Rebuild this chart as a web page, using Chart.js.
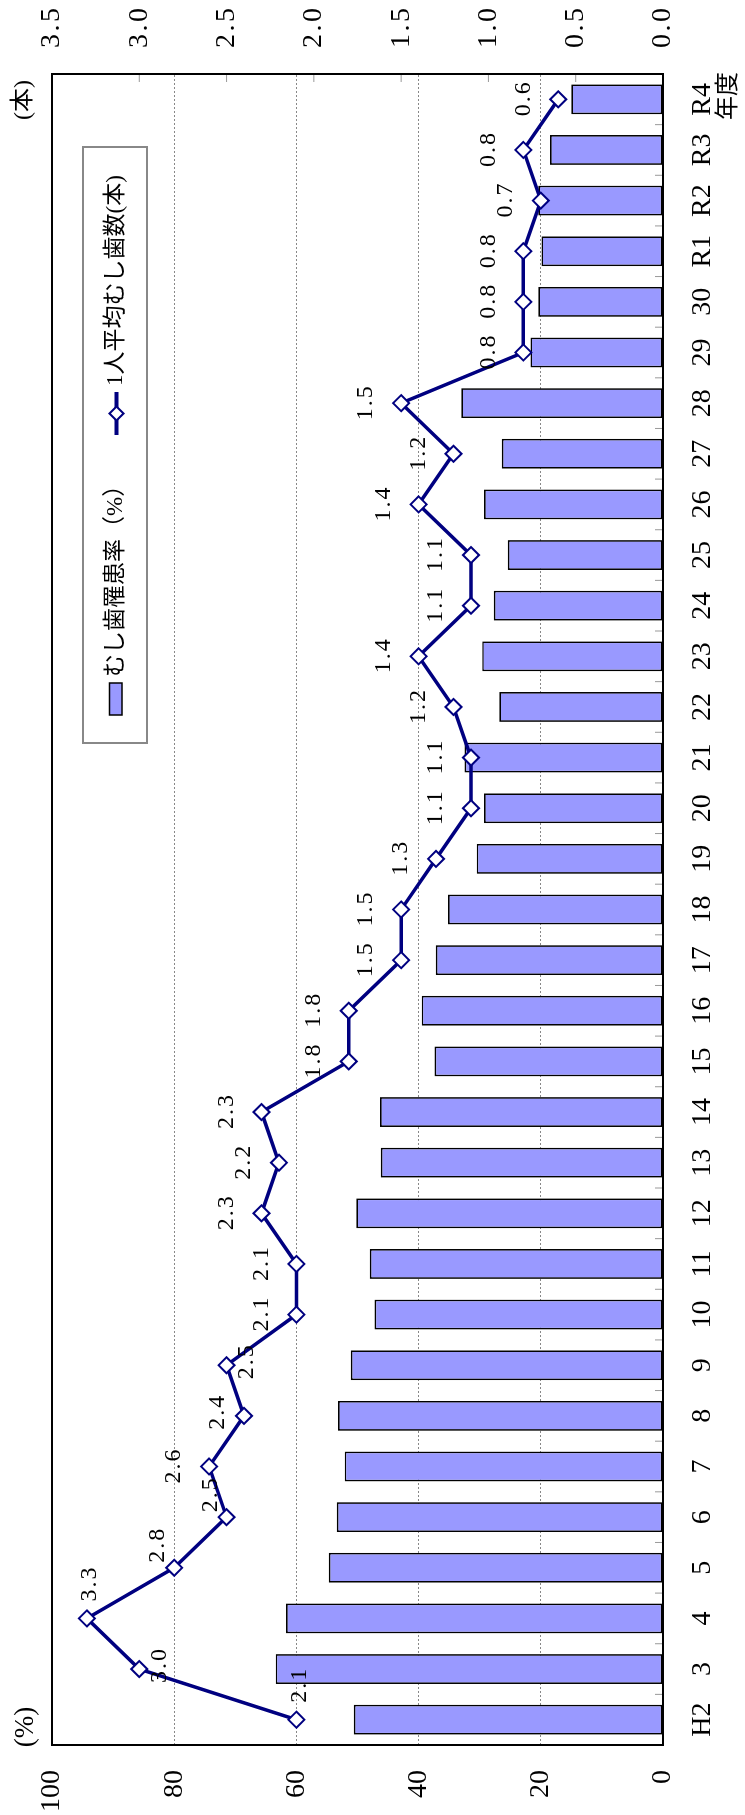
<!DOCTYPE html>
<html lang="ja">
<head>
<meta charset="utf-8">
<title>むし歯罹患率と1人平均むし歯数の推移</title>
<script src="https://cdn.jsdelivr.net/npm/chart.js@4/dist/chart.umd.min.js"></script>
<style>
  html, body { margin: 0; padding: 0; background: #fff; overflow: hidden; }
  #wrap { position: relative; width: 745px; height: 1815px; overflow: hidden; }
  /* chart is laid out landscape, then turned a quarter turn to stand upright */
  #caries {
    position: absolute; left: 0; top: 0;
    transform-origin: 0 0;
    transform: translate(0, 1815px) rotate(-90deg);
  }
</style>
</head>
<body>
<div id="wrap"><canvas id="caries" width="1815" height="745"></canvas></div>
<script>
// ---------------------------------------------
// Data: school year (H2 .. R4)
// ---------------------------------------------
const YEARS = ['H2', '3', '4', '5', '6', '7', '8', '9', '10', '11', '12', '13', '14',
  '15', '16', '17', '18', '19', '20', '21', '22', '23', '24', '25', '26', '27', '28',
  '29', '30', 'R1', 'R2', 'R3', 'R4'];

// caries prevalence (%) - bars, left axis
const CARIES_RATE = [50.6, 63.4, 61.7, 54.7, 53.4, 52.1, 53.2, 51.1, 47.2, 48.0, 50.2,
  46.2, 46.3, 37.4, 39.5, 37.2, 35.2, 30.5, 29.3, 32.5, 26.8, 29.6, 27.7, 25.4, 29.3,
  26.4, 33.0, 21.7, 20.4, 19.9, 20.4, 18.5, 15.0];

// decayed teeth per child (本) - line, right axis
const TEETH_PER_CHILD = [2.1, 3.0, 3.3, 2.8, 2.5, 2.6, 2.4, 2.5, 2.1, 2.1, 2.3, 2.2, 2.3,
  1.8, 1.8, 1.5, 1.5, 1.3, 1.1, 1.1, 1.2, 1.4, 1.1, 1.1, 1.4, 1.2, 1.5, 0.8, 0.8, 0.8,
  0.7, 0.8, 0.6];

// axis tick values
const RATE_TICKS = [0, 20, 40, 60, 80, 100];
const TEETH_TICKS = [0, 0.5, 1.0, 1.5, 2.0, 2.5, 3.0, 3.5];

// where each value label sits around its marker (default: above)
const LABEL_PLACE = ['right', 'below', 'right', 'upRight', 'upRight', 'above', 'near', 'below'];
const LABEL_SPOTS = {
  above: [0, -35],
  below: [3, 20],
  right: [34, 3],
  upRight: [22, -16],
  near: [3, -26]
};

const NAVY = '#000080';
const BAR_BLUE = '#9999ff';
const FONT = "'Liberation Serif', 'Noto Sans CJK JP', serif";

Chart.defaults.font.family = FONT;
Chart.defaults.color = '#000';

function line(ctx, x1, y1, x2, y2) {
  ctx.beginPath();
  ctx.moveTo(x1, y1);
  ctx.lineTo(x2, y2);
  ctx.stroke();
}

// frame, inner tick marks, value labels, legend and axis captions
const chartDecor = {
  id: 'chartDecor',
  afterDatasetsDraw(chart) {
    const { ctx, chartArea: a, scales } = chart;
    ctx.save();

    // small inward tick marks between years
    ctx.strokeStyle = '#999';
    ctx.lineWidth = 1;
    const xs = scales.x;
    for (let i = 1; i < YEARS.length; i++) {
      const px = (xs.getPixelForValue(i - 1) + xs.getPixelForValue(i)) / 2;
      line(ctx, px, a.bottom, px, a.bottom - 8);
    }
    // inward tick marks of the right axis
    const y1 = scales.y1;
    y1.ticks.forEach(t => {
      const py = y1.getPixelForValue(t.value);
      line(ctx, a.right, py, a.right - 8, py);
    });

    // plot frame
    ctx.strokeStyle = '#000';
    ctx.lineWidth = 2;
    ctx.strokeRect(a.left, a.top, a.right - a.left, a.bottom - a.top);

    ctx.fillStyle = '#000';
    ctx.textBaseline = 'middle';

    // right axis labels, one decimal, spaced out a little
    ctx.font = '28px ' + FONT;
    ctx.textAlign = 'left';
    ctx.letterSpacing = '2.5px';
    y1.ticks.forEach(t => {
      ctx.fillText(t.value.toFixed(1), a.right + 26, y1.getPixelForValue(t.value));
    });

    // value labels on the line
    const meta = chart.getDatasetMeta(1);
    ctx.font = '24px ' + FONT;
    ctx.textAlign = 'center';
    ctx.letterSpacing = '2px';
    meta.data.forEach((pt, i) => {
      const [dx, dy] = LABEL_SPOTS[LABEL_PLACE[i] || 'above'];
      ctx.fillText(TEETH_PER_CHILD[i].toFixed(1), pt.x + dx + 1, pt.y + dy);
    });
    ctx.letterSpacing = '0px';
    ctx.restore();
  },
  afterDraw(chart) {
    const { ctx, data } = chart;
    ctx.save();

    // legend box
    ctx.fillStyle = '#fff';
    ctx.strokeStyle = '#888';
    ctx.lineWidth = 2;
    ctx.fillRect(1072, 83, 596, 64);
    ctx.strokeRect(1072, 83, 596, 64);

    ctx.font = '23px ' + FONT;
    ctx.textAlign = 'left';
    ctx.textBaseline = 'middle';

    // bar key
    ctx.fillStyle = BAR_BLUE;
    ctx.fillRect(1100, 109.5, 32, 12.5);
    ctx.strokeStyle = '#000';
    ctx.lineWidth = 1.5;
    ctx.strokeRect(1100, 109.5, 32, 12.5);
    ctx.fillStyle = '#000';
    ctx.fillText(data.datasets[0].label, 1138, 116);

    // line key
    ctx.strokeStyle = NAVY;
    ctx.lineWidth = 4;
    line(ctx, 1380, 116.5, 1423, 116.5);
    ctx.beginPath();
    ctx.moveTo(1394.5, 116.5);
    ctx.lineTo(1401.5, 109.5);
    ctx.lineTo(1408.5, 116.5);
    ctx.lineTo(1401.5, 123.5);
    ctx.closePath();
    ctx.fillStyle = '#fff';
    ctx.fill();
    ctx.lineWidth = 2;
    ctx.stroke();
    ctx.fillStyle = '#000';
    ctx.fillText(data.datasets[1].label, 1429, 116);

    // axis captions
    ctx.textAlign = 'center';
    ctx.font = '27px ' + FONT;
    ctx.fillText('(%)', 88, 26);
    ctx.font = '24px ' + FONT;
    ctx.fillText('(本)', 1715, 24);
    ctx.fillText('年度', 1719, 729);
    ctx.restore();
  }
};

new Chart(document.getElementById('caries'), {
  data: {
    labels: YEARS,
    datasets: [{
      type: 'bar',
      label: 'むし歯罹患率（%）',
      data: CARIES_RATE,
      yAxisID: 'y',
      backgroundColor: BAR_BLUE,
      borderColor: '#000',
      borderWidth: 1.7,
      borderSkipped: false,
      categoryPercentage: 1,
      barPercentage: 0.59,
      order: 1
    }, {
      type: 'line',
      label: '1人平均むし歯数(本)',
      data: TEETH_PER_CHILD,
      yAxisID: 'y1',
      borderColor: NAVY,
      borderWidth: 3.5,
      tension: 0,
      pointStyle: 'rectRot',
      pointRadius: 8,
      pointBackgroundColor: '#fff',
      pointBorderColor: NAVY,
      pointBorderWidth: 2,
      clip: false,
      order: 0
    }]
  },
  options: {
    responsive: false,
    animation: false,
    devicePixelRatio: 1,
    layout: { padding: { top: 52, left: 0, right: 0, bottom: 0 } },
    plugins: {
      legend: { display: false },
      tooltip: { enabled: false }
    },
    scales: {
      x: {
        type: 'category',
        grid: { display: false },
        border: { display: false },
        ticks: { autoSkip: false, maxRotation: 0, padding: 15, font: { size: 28 } },
        afterFit: s => { s.height = 82; }
      },
      y: {
        position: 'left',
        min: RATE_TICKS[0],
        max: RATE_TICKS[RATE_TICKS.length - 1],
        afterBuildTicks: s => { s.ticks = RATE_TICKS.map(v => ({ value: v })); },
        grid: { color: '#888', lineWidth: 1, drawTicks: false },
        border: { display: false, dash: [2, 2] },
        ticks: { padding: 25, font: { size: 28 } },
        afterFit: s => { s.width = 70; }
      },
      y1: {
        position: 'right',
        min: TEETH_TICKS[0],
        max: TEETH_TICKS[TEETH_TICKS.length - 1],
        afterBuildTicks: s => { s.ticks = TEETH_TICKS.map(v => ({ value: v })); },
        grid: { display: false, drawTicks: false },
        border: { display: false },
        ticks: { display: false },
        afterFit: s => { s.width = 74; }
      }
    }
  },
  plugins: [chartDecor]
});
</script>
</body>
</html>
